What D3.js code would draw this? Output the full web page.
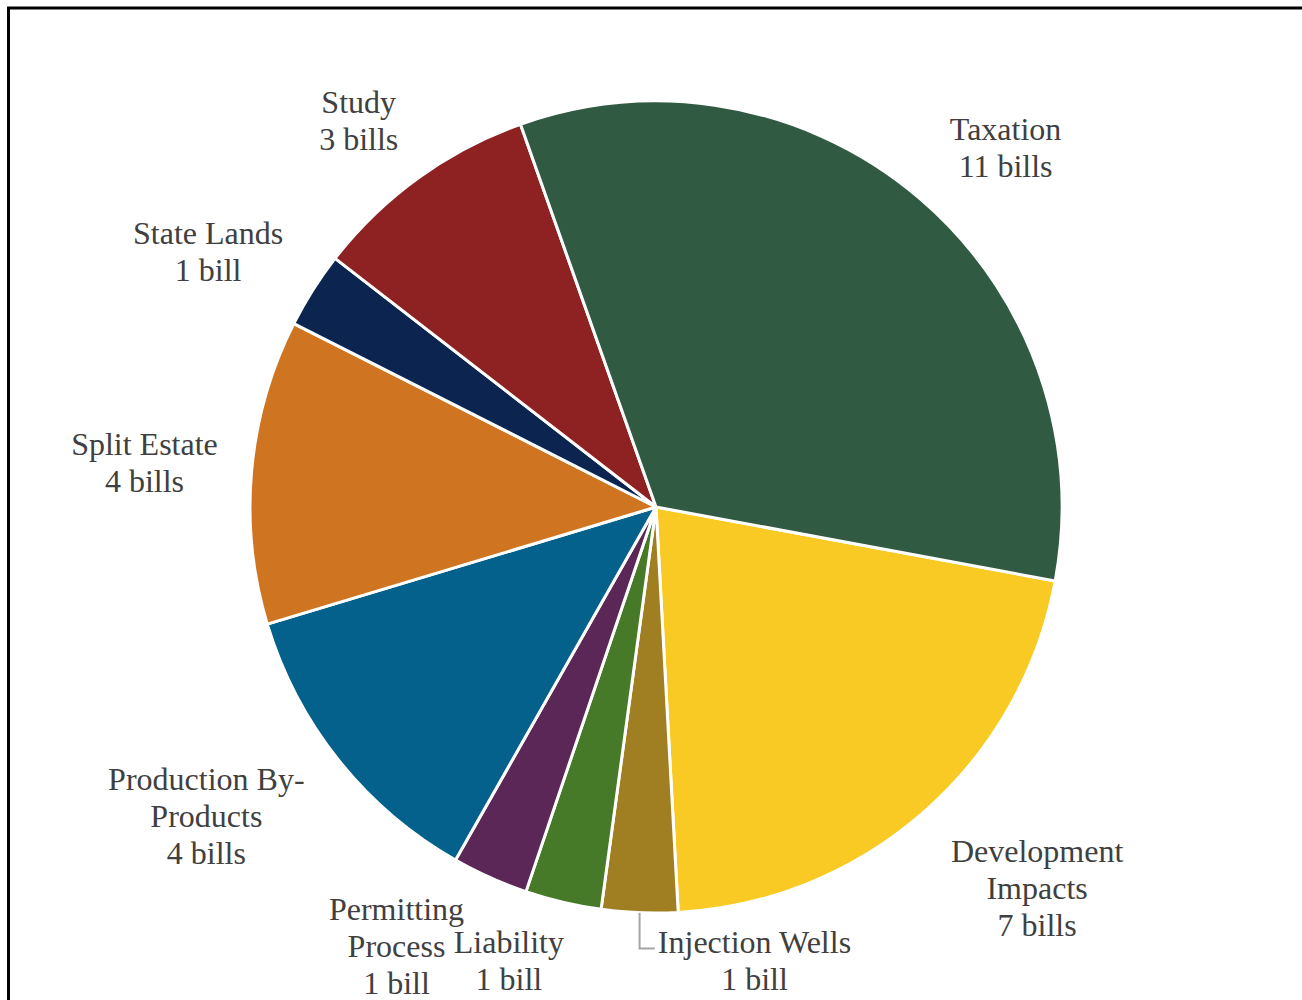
<!DOCTYPE html>
<html>
<head>
<meta charset="utf-8">
<script src="https://cdn.jsdelivr.net/npm/d3@7/dist/d3.min.js"></script>
<style>
  html, body { margin: 0; padding: 0; background: #fff; }
  svg { display: block; }
</style>
</head>
<body>
<svg id="chart" width="1302" height="1000"></svg>
<script>
// Bills by category, alphabetical order (clockwise from the right side)
const categories = [
  "Development Impacts", "Injection Wells", "Liability", "Permitting Process",
  "Production By-Products", "Split Estate", "State Lands", "Study", "Taxation"
];
const bills = [7, 1, 1, 1, 4, 4, 1, 3, 11];
const labelLines = [
  ["Development", "Impacts"], ["Injection Wells"], ["Liability"], ["Permitting", "Process"],
  ["Production By-", "Products"], ["Split Estate"], ["State Lands"], ["Study"], ["Taxation"]
];
const sliceColors = [
  "#F9CA24", "#A07E22", "#477A28", "#5B2756",
  "#03618B", "#CF7421", "#0B2550", "#8E2121", "#315A42"
];
// label nudges away from the outer ring anchor point
const labelNudge = [
  [46, 0], [119, -54], [-31, -41], [-52, -24],
  [-53, -8], [-6, 0], [-19, 16], [0, 25], [20, 26]
];

const svg = d3.select("#chart");
const cx = 656, cy = 507, r = 406;
const deg = Math.PI / 180;
const start = 100.5 * deg;

// chart frame
svg.append("path")
  .attr("d", "M8.5,1000 L8.5,8 L1302,8")
  .attr("fill", "none")
  .attr("stroke", "#000")
  .attr("stroke-width", 3);

const pie = d3.pie().sort(null).value(d => d)
  .startAngle(start).endAngle(start + 2 * Math.PI);
const arcs = pie(bills);
const arc = d3.arc().innerRadius(0).outerRadius(r);

const g = svg.append("g").attr("transform", `translate(${cx},${cy})`);

g.selectAll("path.slice")
  .data(arcs)
  .join("path")
  .attr("class", "slice")
  .attr("d", arc)
  .attr("fill", (d, i) => sliceColors[i])
  .attr("stroke", "#fff")
  .attr("stroke-width", 3)
  .attr("stroke-linejoin", "round");

const lineH = 37;
const labelArc = d3.arc().innerRadius(r * 1.25).outerRadius(r * 1.25);

arcs.forEach((d, i) => {
  const c = labelArc.centroid(d);
  const x = c[0] + labelNudge[i][0];
  const y = c[1] + labelNudge[i][1];
  const lines = labelLines[i].concat([bills[i] + (bills[i] === 1 ? " bill" : " bills")]);
  const t = g.append("text")
    .attr("text-anchor", "middle")
    .attr("font-family", "'Liberation Serif', 'Times New Roman', serif")
    .attr("font-size", 32)
    .attr("fill", "#404040");
  lines.forEach((ln, k) => {
    t.append("tspan")
      .attr("x", x)
      .attr("y", y + (k - (lines.length - 1) / 2) * lineH)
      .attr("dominant-baseline", "central")
      .text(ln);
  });
  // leader line for the narrow slice whose label sits off to the side
  if (categories[i] === "Injection Wells") {
    const mid = (d.startAngle + d.endAngle) / 2;
    const px = r * Math.sin(mid), py = -r * Math.cos(mid);
    const bb = t.node().getBBox();
    const ly = y - lineH / 2 + 7;
    g.append("path")
      .attr("d", `M${px},${py} L${px},${ly} L${bb.x - 3},${ly}`)
      .attr("fill", "none")
      .attr("stroke", "#A6A6A6")
      .attr("stroke-width", 2);
  }
});
</script>
</body>
</html>
